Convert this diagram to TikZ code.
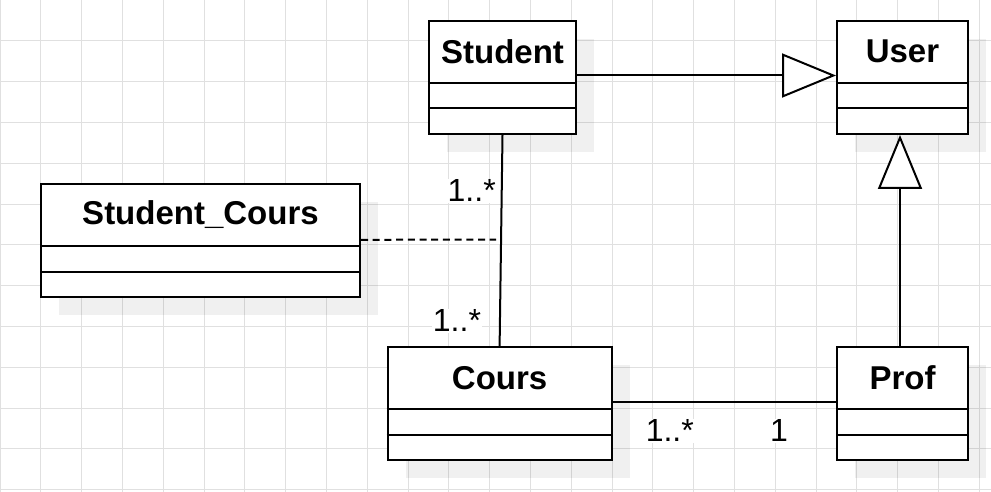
\documentclass[tikz,border=0pt]{standalone}
\usepackage{fontspec}
\setmainfont{Liberation Sans}
\usetikzlibrary{calc,arrows.meta,shadows}

\tikzset{
  gridline/.style={draw=black!12, line width=1pt},
  classbox/.style={draw, line width=2pt, fill=white, minimum height=113pt, inner sep=0pt,
    drop shadow={shadow xshift=18pt, shadow yshift=-18pt, fill=black, opacity=0.06}},
  classname/.style={font=\fontsize{33}{39}\selectfont\bfseries, inner sep=0pt},
  mult/.style={font=\fontsize{32}{38}\selectfont, fill=white, inner sep=1pt},
  assoc/.style={line width=2pt},
  inherit/.style={line width=2pt, -{Triangle[open, length=54pt, width=44pt, fill=white]}},
}

\begin{document}
\begin{tikzpicture}[x=1pt, y=-1pt]
        \useasboundingbox (0,0) rectangle (991,492);
        % background grid
        \foreach \i in {0,...,24}
        \draw[gridline] (\i*40.8,0) -- (\i*40.8,492);
        \foreach \j in {0,...,12}
        \draw[gridline] (0,\j*40.8) -- (991,\j*40.8);
        % classes
        \foreach \name/\cx/\cy/\w/\title in {student/502.5/77.5/147pt/Student,
            user/902.5/77.5/131pt/User,
            studentcours/200.5/240.8/319pt/Student\_Cours,
            cours/499.6/403.7/224pt/Cours,
            prof/902.5/403.7/131pt/Prof}
        {
        \node[classbox, minimum width=\w] (\name) at (\cx,\cy) {};
        \node[classname] (\name-title) at ($(\name.north)+(0,31.5)$) {\title};
        \draw[assoc] ($(\name.north west)+(0,63)$) -- ($(\name.north east)+(0,63)$);
        \draw[assoc] ($(\name.north west)+(0,88.5)$) -- ($(\name.north east)+(0,88.5)$);
        }
        % relations
        \draw[inherit] ($(student.east)+(0,-2)$) -- ($(user.west)+(0,-2)$);
        \draw[inherit] ($(prof.north)+(-2.5,0)$) -- ($(user.south)+(-2.5,0)$);
        \draw[assoc] (student.south) -- node[mult, pos=0.265, anchor=east, xshift=-4pt] (mstudent) {1..*}
            node[mult, pos=0.88, anchor=east, xshift=-17pt] (mcours) {1..*} (cours.north);
        \coordinate (linkmid) at ($(student.south)!0.5!(cours.north)+(-5,-1)$);
        \draw[assoc, dash pattern=on 7pt off 4.7pt] ($(studentcours.east)+(0,-1)$) -- (linkmid);
        \draw[assoc] ($(cours.east)+(0,-2)$) -- node[mult, pos=0.256, yshift=-29pt] (mcoursprof) {1..*}
            node[mult, pos=0.745, yshift=-29pt] (mprof) {1} ($(prof.west)+(0,-2)$);
\end{tikzpicture}
\end{document}
